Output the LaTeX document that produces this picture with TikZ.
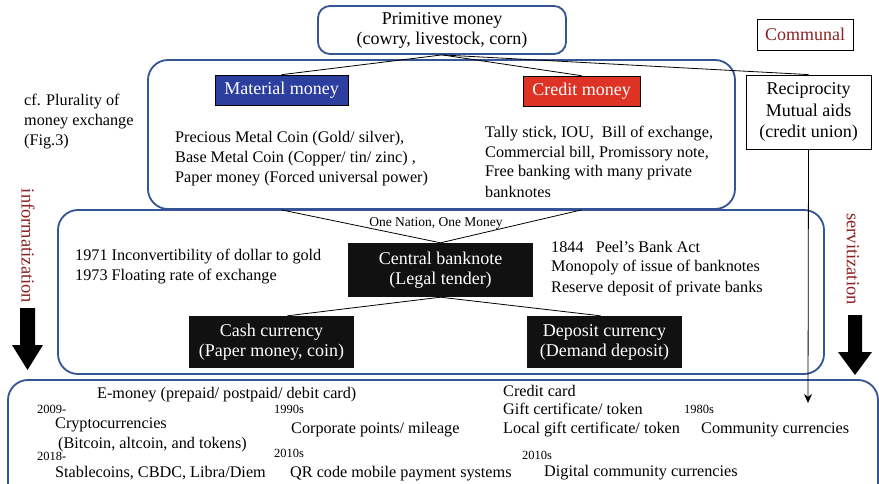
\documentclass[tikz,border=0pt]{standalone}
\usepackage{fontspec}
\setmainfont{Liberation Serif}
\usetikzlibrary{arrows.meta}
\definecolor{bordblue}{RGB}{52,84,150}
\definecolor{matblue}{RGB}{44,62,158}
\definecolor{credred}{RGB}{222,50,36}
\definecolor{darkred}{RGB}{140,35,35}
\definecolor{boxblack}{RGB}{17,17,17}
\begin{document}
\begin{tikzpicture}[x=1pt,y=-1pt,
  container/.style={draw=bordblue,line width=1.8pt,rounded corners=20pt,inner sep=0pt},
  fsa/.style={font=\fontsize{16.2}{20}\selectfont},
  fsb/.style={font=\fontsize{18}{20}\selectfont},
  fsv/.style={font=\fontsize{18.5}{20}\selectfont},
  fss/.style={font=\fontsize{12.5}{14}\selectfont},
  fsn/.style={font=\fontsize{13.5}{15}\selectfont},
  lbl/.style={anchor=base west,inner sep=0pt,fsa},
  yr/.style={anchor=base west,inner sep=0pt,fss},
  blk/.style={fill=boxblack,text=white,fsb,align=center,inner sep=0pt},
  colbox/.style={draw=black,line width=0.6pt,text=white,fsb,inner sep=0pt},
  plainbox/.style={draw=black,line width=0.8pt,fsb,align=center,inner sep=0pt},
  link/.style={draw=black,line width=0.8pt},
  fat/.style={fill=black}]
\useasboundingbox (0,0) rectangle (879,484);
\fill[white] (0,0) rectangle (879,484);

% containers
\node[container,minimum width=587,minimum height=149] (topbox) at (441.5,134.5) {};
\node[container,minimum width=766,minimum height=164] (midbox) at (441,292) {};
\begin{scope}
\clip (0,0) rectangle (879,484);
\node[container,minimum width=870,minimum height=130] (botbox) at (443,445) {};
\end{scope}

% top boxes
\node[draw=bordblue,line width=1.8pt,rounded corners=12pt,minimum width=248,minimum height=48,fsb,align=center,inner sep=0pt] (prim) at (442,30) {Primitive money\\(cowry, livestock, corn)};
\node[colbox,fill=matblue,minimum width=133,minimum height=30] (mat) at (281.5,90) {Material money};
\node[colbox,fill=credred,minimum width=117,minimum height=30] (cred) at (581.5,91) {Credit money};
\node[plainbox,text=darkred,minimum width=96,minimum height=31] (comm) at (805,34.5) {Communal};
\node[plainbox,font=\fontsize{18}{21.5}\selectfont,minimum width=125,minimum height=74] (rec) at (808.5,112) {Reciprocity\\Mutual aids\\(credit union)};

% black boxes
\node[blk,minimum width=185,minimum height=54] (cb) at (440.5,270) {Central banknote\\(Legal tender)};
\node[blk,minimum width=165,minimum height=52] (cash) at (271.5,342) {Cash currency\\(Paper money, coin)};
\node[blk,minimum width=155,minimum height=52] (dep) at (604.5,342) {Deposit currency\\(Demand deposit)};

% connectors
\draw[link] (prim.south) -- (mat.north);
\draw[link] (prim.south) -- (cred.north);
\draw[link] (prim.south) -- (rec.north);
\draw[link] (mat.north |- topbox.south) -- (cb.north);
\draw[link] (cred.north |- topbox.south) -- (cb.north);
\draw[link] (cb.south) -- ([xshift=16pt]cash.north);
\draw[link] (cb.south) -- ([xshift=-4pt]dep.north);
\coordinate (recend) at (808,403);
\draw[link,-{Stealth[length=9pt,width=8pt]}] (rec.south) -- (recend);

% fat arrows
\fill[fat] (20,308) -- (35,308) -- (35,345) -- (43,345) -- (27.5,370) -- (12,345) -- (20,345) -- cycle;
\fill[fat] (848,315) -- (862,315) -- (862,352) -- (872,352) -- (855,375) -- (838,352) -- (848,352) -- cycle;
\node[fsv,text=darkred,rotate=-90,inner sep=0pt] (info) at (28,246) {informatization};
\node[fsv,text=darkred,rotate=-90,inner sep=0pt] (serv) at (853,259) {servitization};

% left note
\node[lbl] (cf1) at (24,106) {cf. Plurality of};
\node[lbl] (cf2) at (24,126) {money exchange};
\node[lbl] (cf3) at (24,146) {(Fig.3)};

% material text
\node[lbl] (m1) at (175,143) {Precious Metal Coin (Gold/ silver),};
\node[lbl] (m2) at (175,163) {Base Metal Coin (Copper/ tin/ zinc) ,};
\node[lbl] (m3) at (175,183) {Paper money (Forced universal power)};

% credit text
\node[lbl] (c1) at (485,138) {Tally stick, IOU,\ \ Bill of exchange,};
\node[lbl] (c2) at (485,158) {Commercial bill, Promissory note,};
\node[lbl] (c3) at (485,177) {Free banking with many private};
\node[lbl] (c4) at (485,197) {banknotes};

% middle texts
\node[fsn,anchor=base,inner sep=0pt] (one) at (436,226) {One Nation, One Money};
\node[lbl] (l1) at (75,260) {1971 Inconvertibility of dollar to gold};
\node[lbl] (l2) at (75,280) {1973 Floating rate of exchange};
\node[lbl] (r1) at (551,252) {1844\ \ \ Peel’s Bank Act};
\node[lbl] (r2) at (551,272) {Monopoly of issue of banknotes};
\node[lbl] (r3) at (551,292) {Reserve deposit of private banks};

% bottom texts
\node[lbl] (b1) at (97,398) {E-money (prepaid/ postpaid/ debit card)};
\node[yr] (y1) at (37,413) {2009-};
\node[lbl] (b2) at (55,428) {Cryptocurrencies};
\node[lbl] (b3) at (58,448) {(Bitcoin, altcoin, and tokens)};
\node[yr] (y2) at (37,460) {2018-};
\node[lbl] (b4) at (55,477) {Stablecoins, CBDC, Libra/Diem};
\node[yr] (y3) at (274,413) {1990s};
\node[lbl] (b5) at (291,433) {Corporate points/ mileage};
\node[yr] (y4) at (274,457) {2010s};
\node[lbl] (b6) at (290,477) {QR code mobile payment systems};
\node[lbl] (b7) at (503,396) {Credit card};
\node[lbl] (b8) at (503,414) {Gift certificate/ token};
\node[lbl] (b9) at (503,433) {Local gift certificate/ token};
\node[yr] (y5) at (684,413) {1980s};
\node[lbl] (b10) at (701,433) {Community currencies};
\node[yr] (y6) at (522,459) {2010s};
\node[lbl] (b11) at (544,476) {Digital community currencies};
\end{tikzpicture}
\end{document}
